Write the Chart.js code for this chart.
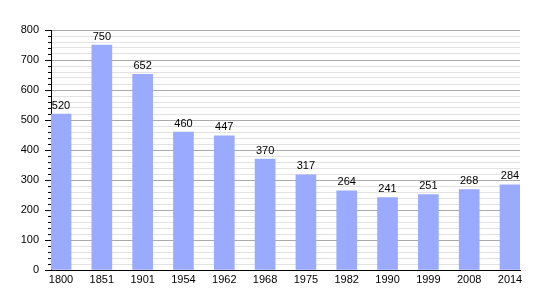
<!DOCTYPE html>
<html>
<head>
<meta charset="utf-8">
<script src="https://cdn.jsdelivr.net/npm/chart.js@4"></script>
<style>
  body { margin: 0; background: #fff; }
  #chart1 { display: block; }
</style>
</head>
<body>
<canvas id="chart1" width="550" height="300"></canvas>
<script>
const years = ['1800', '1851', '1901', '1954', '1962', '1968', '1975', '1982', '1990', '1999', '2008', '2014'];
const population = [520, 750, 652, 460, 447, 370, 317, 264, 241, 251, 268, 284];
const yTicks = [0, 100, 200, 300, 400, 500, 600, 700, 800];

const FONT = '"Liberation Sans", Arial, sans-serif';
const ctx = document.getElementById('chart1').getContext('2d');

new Chart(ctx, {
    type: 'bar',
    data: {
        datasets: [{
            data: population.map((v, i) => ({ x: i, y: v })),
            backgroundColor: '#99aaff',
            borderWidth: 0,
            barThickness: 20
        }]
    },
    options: {
        responsive: false,
        animation: false,
        layout: { padding: { left: 0, right: 30, top: 30, bottom: 0 } },
        plugins: {
            legend: { display: false },
            tooltip: { enabled: false }
        },
        scales: {
            x: {
                type: 'linear',
                offset: false,
                min: -0.245,
                max: 11.245,
                afterBuildTicks: (scale) => {
                    scale.ticks = years.map((_, i) => ({ value: i }));
                },
                afterFit: (scale) => { scale.height = 30; },
                grid: { display: false, drawTicks: false },
                border: { display: true, color: '#000', width: 1 },
                ticks: {
                    autoSkip: false,
                    maxRotation: 0,
                    padding: 3,
                    color: '#000',
                    font: { family: FONT, size: 11 },
                    callback: (v) => years[v]
                }
            },
            y: {
                min: 0,
                max: 800,
                afterBuildTicks: (scale) => {
                    const t = [];
                    for (let v = 0; v <= 800; v += 20) t.push({ value: v });
                    scale.ticks = t;
                },
                afterFit: (scale) => { scale.width = 51; },
                grid: {
                    drawTicks: false,
                    color: (c) => c.tick.value % 100 === 0 ? '#aaaaaa' : '#e2e2e2'
                },
                border: { display: true, color: '#000', width: 1 },
                ticks: {
                    autoSkip: false,
                    padding: 12,
                    color: '#000',
                    font: { family: FONT, size: 11 },
                    callback: (v) => yTicks.includes(v) ? String(v) : ''
                }
            }
        }
    },
    plugins: [{
        id: 'axisTicksAndLabels',
        afterDraw: function(chart) {
            const c = chart.ctx;
            const y = chart.scales.y;
            const left = chart.chartArea.left;
            c.save();
            // tick marks on the value axis
            c.strokeStyle = '#000';
            c.lineWidth = 1;
            for (let v = 0; v <= 800; v += 20) {
                const py = Math.round(y.getPixelForValue(v)) + 0.5;
                const len = v % 100 === 0 ? 6 : 3;
                c.beginPath();
                c.moveTo(left - len, py);
                c.lineTo(left, py);
                c.stroke();
            }
            // value labels above bars
            c.fillStyle = '#000';
            c.font = '11px ' + FONT;
            c.textAlign = 'center';
            c.textBaseline = 'bottom';
            chart.getDatasetMeta(0).data.forEach((bar, i) => {
                c.fillText(String(population[i]), bar.x, bar.y - 3);
            });
            c.restore();
        }
    }]
});
</script>
</body>
</html>
